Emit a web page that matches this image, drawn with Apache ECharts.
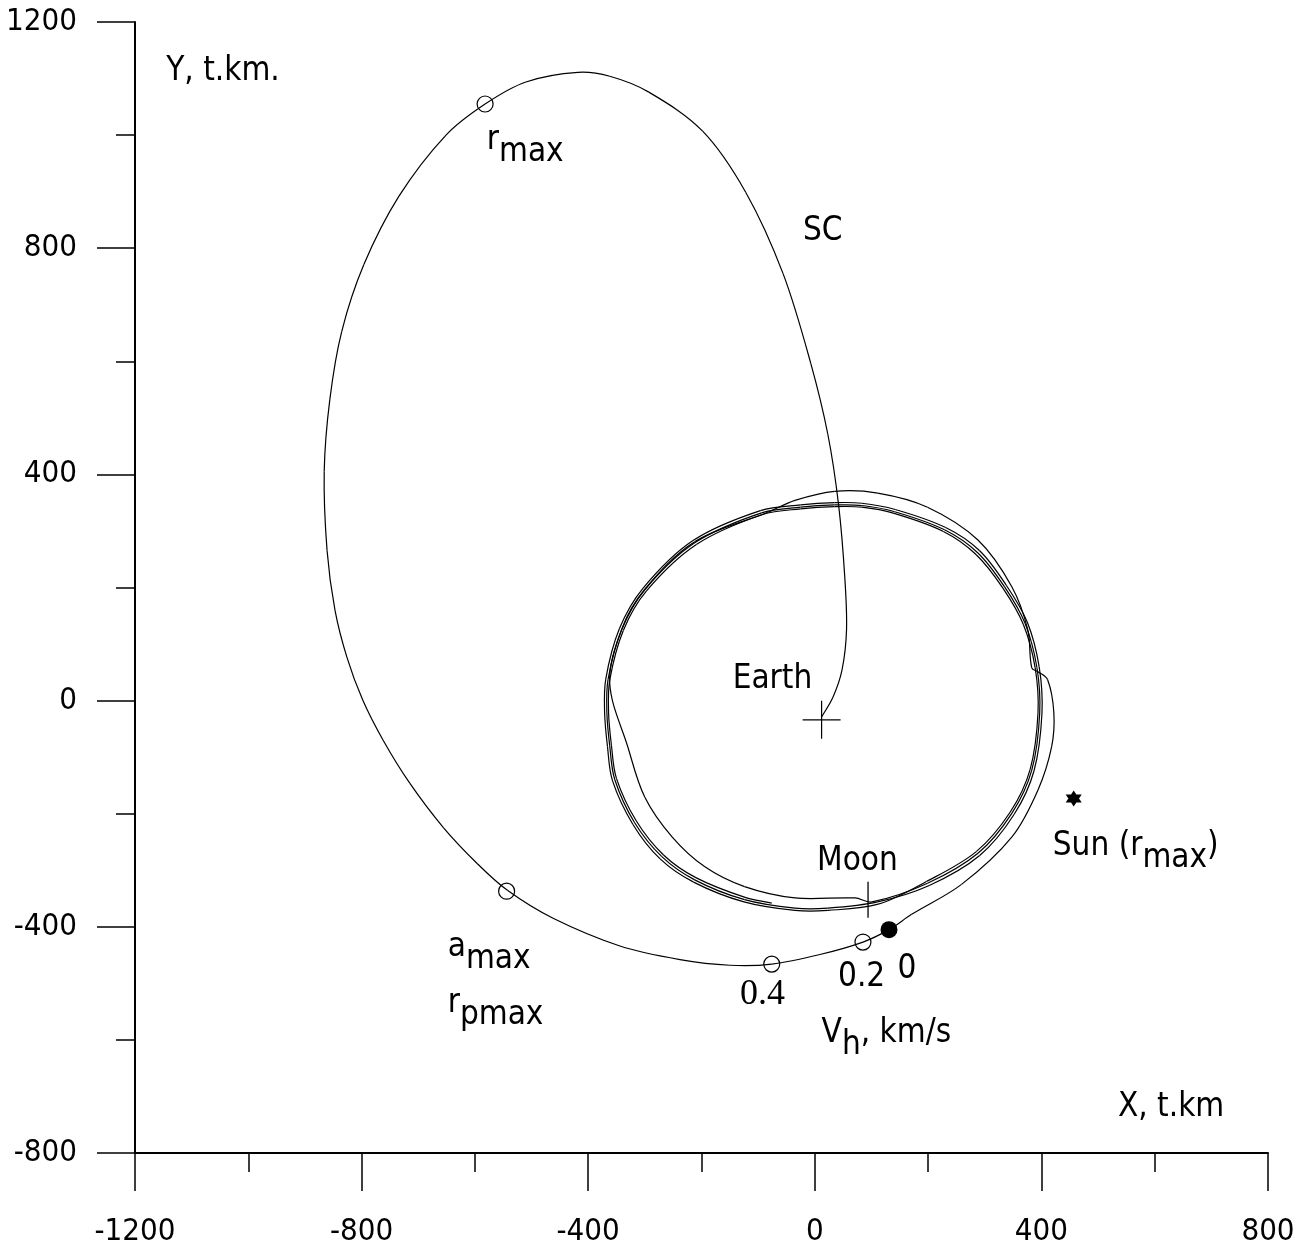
<!DOCTYPE html>
<html><head><meta charset="utf-8">
<script src="https://cdn.jsdelivr.net/npm/echarts@6/dist/echarts.min.js"></script>
<style>html,body{margin:0;padding:0;background:#fff}#c{width:1311px;height:1248px}</style>
</head><body><div id="c"></div>
<script>
// ---- tick values (t.km) ----
const xTickValues = [-1200, -800, -400, 0, 400, 800];
const yTickValues = [-800, -400, 0, 400, 800, 1200];

// ---- spacecraft trajectory pieces, [X, Y] in t.km ----
// from Earth up to r_max, around to a_max and the velocity points
const scApogeeLoop = [[12,-29],[32,6],[48,54],[56,125],[53,217],[42,346],[23,471],[-7,596],[-56,755],[-122,899],[-198,1007],[-293,1076],[-362,1104],[-418,1111],[-510,1094],[-582,1055],[-651,1000],[-734,892],[-796,771],[-835,653],[-856,533],[-866,405],[-861,266],[-847,160],[-826,77],[-798,1],[-762,-70],[-715,-146],[-656,-224],[-596,-288],[-542,-336],[-462,-385],[-344,-434],[-238,-458],[-150,-468],[-76,-466],[9,-449],[85,-427],[131,-405]];
// outer arc on the right, with the small kink, up over the top
const scOuterArc = [[171,-378],[259,-325],[348,-241],[394,-158],[418,-82],[422,-22],[411,37],[394,51],[383,58],[376,125],[348,201],[288,284],[199,342],[111,367],[35,370],[-35,354],[-83,333]];
// down the left side, then inside transfer towards the Moon
const scLunarTransfer = [[-212,281],[-300,197],[-341,126],[-362,31],[-330,-82],[-300,-171],[-252,-241],[-194,-294],[-124,-329],[-35,-349],[71,-349],[101,-356]];
// near-lunar orbit loops
const orbitLoop1 = [[199,-323],[288,-270],[348,-199],[383,-123],[397,-22],[392,59],[371,137],[335,201],[288,261],[229,302],[141,334],[83,345],[35,346],[-25,342],[-94,332],[-212,279],[-300,196],[-341,125],[-365,37],[-367,-22],[-362,-80],[-353,-140],[-318,-216],[-270,-276],[-212,-317],[-124,-352],[-35,-367],[23,-367],[111,-356]];
const orbitLoop2 = [[202,-327],[291,-274],[352,-201],[387,-124],[401,-22],[396,60],[375,139],[338,204],[291,265],[231,306],[142,338],[83,349],[35,350],[-25,346],[-96,336],[-215,283],[-303,199],[-345,127],[-369,38],[-371,-22],[-366,-81],[-357,-142],[-321,-219],[-273,-280],[-214,-321],[-125,-356],[-35,-371],[23,-371],[112,-360]];
const orbitLoop3 = [[197,-320],[285,-267],[345,-197],[380,-122],[394,-22],[389,58],[368,135],[332,199],[285,258],[227,299],[140,331],[83,342],[35,343],[-25,339],[-92,329],[-209,276],[-297,194],[-338,124],[-362,36],[-364,-22],[-359,-79],[-350,-138],[-315,-213],[-267,-273],[-210,-313],[-123,-348],[-76,-358]];

// ---- marked points ----
const openMarkers = [[-582,1055],[-544,-337],[-76,-466],[85,-427]]; // r_max, a_max, 0.4, 0.2
const startPoint = [[131,-405]];   // Vh = 0
const earthPos = [[12,-34]];
const moonPos = [[94,-352]];
const sunDir = [[457,-173]];

// ---- text annotations: anchor [X,Y] (left edge) and text ----
const annoPos = [[-1145,1113],[-579,990],[-21,830],[-145,38],[4,-285],[420,-257],[-648,-437],[-648,-535],[41,-489],[146,-476],[12,-588],[535,-719]];
const annoText = ['{b|Y, t.km.}','{b|r}{s|max}','{b|SC}','{b|Earth}','{b|Moon}','{b|Sun (r}{s|max}{b|)}','{b|a}{s|max}','{b|r}{s|pmax}','{b|0.2}','{b|0}','{b|V}{s|h}{b|, km/s}','{b|X, t.km}'];
const serifPos = [[-132,-520]];
const serifText = ['0.4'];

const FONT = "'DejaVu Sans Condensed', 'DejaVu Sans', sans-serif";
const trajectory = [].concat(scApogeeLoop, scOuterArc, scLunarTransfer, orbitLoop1, orbitLoop2, orbitLoop3);

const chart = echarts.init(document.getElementById('c'), null, {renderer: 'canvas'});

function axisCommon(ticks, margin) {
  return {
    type: 'value',
    min: ticks[0], max: ticks[ticks.length - 1], interval: ticks[1] - ticks[0],
    axisLine: {show: true, onZero: false, lineStyle: {color: '#000', width: 2}},
    axisTick: {show: true, inside: false, length: 38, lineStyle: {color: '#000', width: 1.5}},
    minorTick: {show: true, splitNumber: 2, length: 19, lineStyle: {color: '#000', width: 1.5}},
    splitLine: {show: false},
    minorSplitLine: {show: false},
    axisLabel: {color: '#000', fontSize: 31, fontFamily: FONT, margin: margin, formatter: v => String(v)}
  };
}

const rich = {
  b: {fontSize: 33, fontFamily: FONT, color: '#000'},
  s: {fontSize: 33, fontFamily: FONT, color: '#000', padding: [24, 0, 0, 0]}
};

// smooth curve through the read points (chord-length Hermite -> cubic Bezier), positioned via the axes
function renderTrajectory(params, api) {
  const i = params.dataIndex, n = trajectory.length;
  if (i >= n - 1) return null;
  const P = k => { const c = api.coord(trajectory[Math.max(0, Math.min(n - 1, k))]); return [c[0], c[1]]; };
  const tangent = k => {
    const a = P(k - 1), b = P(k + 1);
    const dx = b[0] - a[0], dy = b[1] - a[1];
    const len = Math.hypot(dx, dy) || 1;
    return [dx / len, dy / len];
  };
  const p1 = P(i), p2 = P(i + 1);
  const L = Math.hypot(p2[0] - p1[0], p2[1] - p1[1]) / 3;
  const t1 = tangent(i), t2 = tangent(i + 1);
  return {
    type: 'bezierCurve',
    shape: {
      x1: p1[0], y1: p1[1], x2: p2[0], y2: p2[1],
      cpx1: p1[0] + t1[0] * L, cpy1: p1[1] + t1[1] * L,
      cpx2: p2[0] - t2[0] * L, cpy2: p2[1] - t2[1] * L
    },
    style: {stroke: '#000', fill: null, lineWidth: 1.2}
  };
}

chart.setOption({
  animation: false,
  backgroundColor: '#fff',
  grid: {left: 135, right: 43, top: 22, bottom: 95, containLabel: false},
  xAxis: axisCommon(xTickValues, 63),
  yAxis: axisCommon(yTickValues, 58),
  series: [
    {
      type: 'custom', coordinateSystem: 'cartesian2d', data: trajectory, encode: {x: 0, y: 1},
      renderItem: renderTrajectory, silent: true, z: 2
    },
    {
      type: 'scatter', data: openMarkers, symbol: 'circle', symbolSize: 16, silent: true, z: 3,
      itemStyle: {color: 'rgba(0,0,0,0)', borderColor: '#000', borderWidth: 1.2, opacity: 1}
    },
    {
      type: 'scatter', data: startPoint, symbol: 'circle', symbolSize: 17, silent: true, z: 3,
      itemStyle: {color: '#000', opacity: 1}
    },
    {
      type: 'scatter', data: sunDir, symbol: 'path://M0,-10L8.66,5L-8.66,5Z M0,10L-8.66,-5L8.66,-5Z',
      symbolSize: 16, silent: true, z: 3, itemStyle: {color: '#000', opacity: 1}
    },
    {
      type: 'scatter', data: earthPos, symbol: 'path://M0,20L40,20M20,0L20,40', symbolSize: 38, silent: true, z: 3,
      itemStyle: {color: 'none', borderColor: '#000', borderWidth: 1.2, opacity: 1}
    },
    {
      type: 'scatter', data: moonPos, symbol: 'rect', symbolSize: [1.3, 36], silent: true, z: 3,
      itemStyle: {color: '#000', opacity: 1}
    },
    {
      type: 'scatter', silent: true, z: 4, symbolSize: 0, itemStyle: {opacity: 1},
      data: annoPos.map((p, i) => ({value: p, label: {formatter: annoText[i]}})),
      label: {show: true, position: 'right', distance: 0, rich: rich, color: '#000'}
    },
    {
      type: 'scatter', silent: true, z: 4, symbolSize: 0, itemStyle: {opacity: 1},
      data: serifPos.map((p, i) => ({value: p, label: {formatter: serifText[i]}})),
      label: {show: true, position: 'right', distance: 0, color: '#000', fontSize: 36, fontFamily: "'Liberation Serif', 'DejaVu Serif', serif"}
    }
  ]
});
</script>
</body></html>
